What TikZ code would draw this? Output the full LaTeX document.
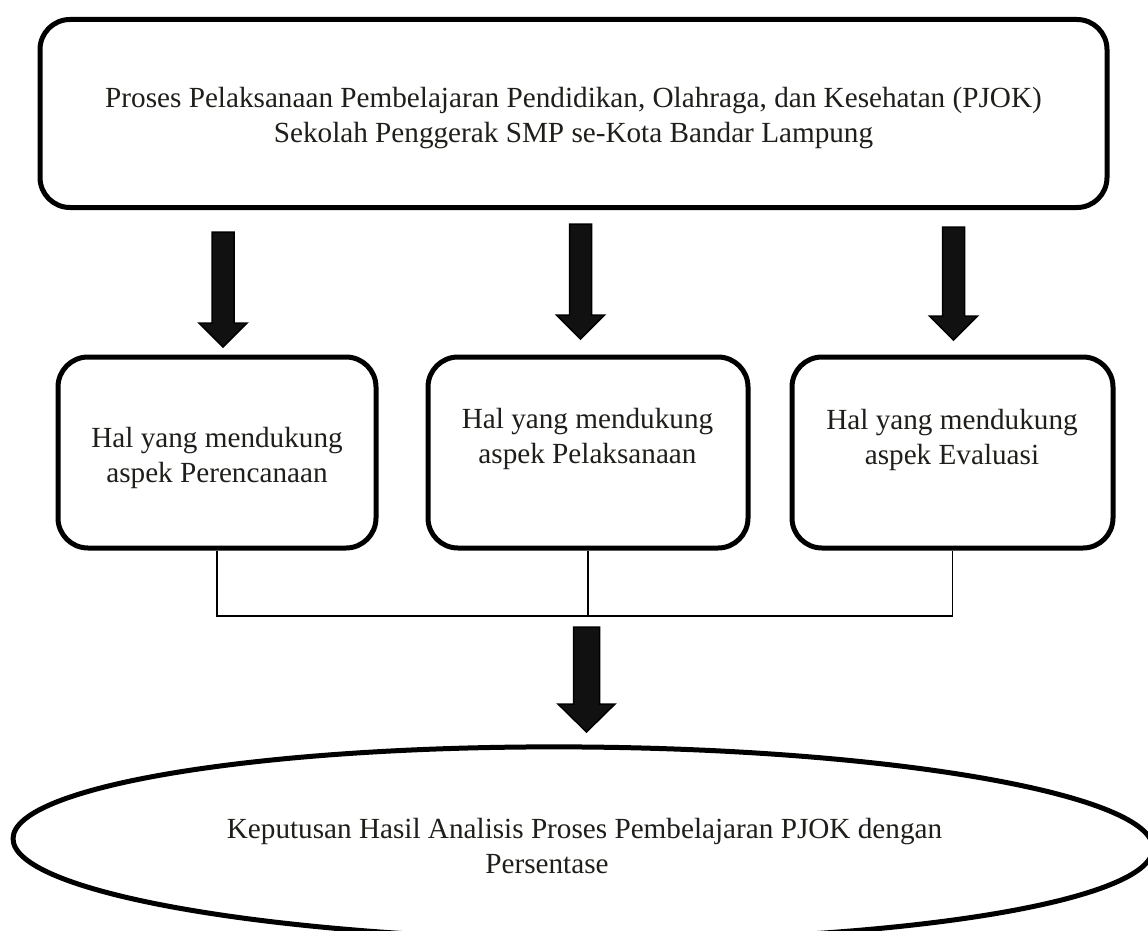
\documentclass[tikz,border=0pt]{standalone}
\usepackage{fontspec}
\setmainfont{Liberation Serif}
\usetikzlibrary{shapes.geometric,calc}
\definecolor{txtc}{RGB}{30,30,26}
\definecolor{arrfill}{RGB}{17,17,17}
% block arrow: start, end, half shaft width, half head width, head length
\newcommand{\blockarr}[5]{%
  \filldraw[arr] ($(#1)+(-#3,0)$) -- ($(#2)+(-#3,-#5)$) -- ($(#2)+(-#4,-#5)$) -- (#2)
    -- ($(#2)+(#4,-#5)$) -- ($(#2)+(#3,-#5)$) -- ($(#1)+(#3,0)$) -- cycle;}
\begin{document}
\begin{tikzpicture}[x=1pt,y=-1pt,
  rbox/.style={draw=black, line width=5pt, rounded corners=30pt, rectangle, inner sep=0pt, minimum height=191pt},
  txt/.style={font=\fontsize{29.2}{35}\selectfont, text=txtc, align=center, inner sep=0pt},
  conn/.style={draw=black, line width=1.3pt},
  arr/.style={fill=arrfill, draw=black, line width=1.5pt, line join=miter}]
\useasboundingbox (0,0) rectangle (1148,931);
\fill[white] (0,0) rectangle (1148,931);

% top box
\node[rbox, minimum width=1067pt, minimum height=188pt] (top) at (573.5,113.5) {};
\node[txt] (topt) at (573.5,117.6) {Proses Pelaksanaan Pembelajaran Pendidikan, Olahraga, dan Kesehatan (PJOK)\\Sekolah Penggerak SMP se-Kota Bandar Lampung};

% middle boxes
\node[rbox, minimum width=318pt] (L) at (217,452.5) {};
\node[rbox, minimum width=320pt] (M) at (588,452.5) {};
\node[rbox, minimum width=321pt] (R) at (952.5,452.5) {};
\node[txt] (Lt) at (217,457.8) {Hal yang mendukung\\aspek Perencanaan};
\node[txt] (Mt) at (587.5,438.8) {Hal yang mendukung\\aspek Pelaksanaan};
\node[txt] (Rt) at (952,439.8) {Hal yang mendukung\\aspek Evaluasi};

% ellipse
\node[draw=black, ellipse, line width=5pt, minimum width=1140pt, minimum height=193pt, inner sep=0pt, rotate=-0.5] (ell) at (583,843.5) {};
\node[txt] (ellt) at (584.5,845.6) {Keputusan Hasil Analisis Proses Pembelajaran PJOK dengan\\Persentase\hspace*{75pt}};

% connector lines
\coordinate (bar) at (584,616);
\draw[conn] (L.south) |- (bar) -| (R.south);
\draw[conn] (M.south) -- (M.south |- bar);

% block arrows
\coordinate (a1s) at (223,232);   \coordinate (a1e) at (223,347);
\coordinate (a2s) at (580.5,224); \coordinate (a2e) at (580.5,339);
\coordinate (a3s) at (953.5,227); \coordinate (a3e) at (953.5,340);
\coordinate (a4s) at (586.5,627); \coordinate (a4e) at (586.5,732);
\blockarr{a1s}{a1e}{11}{24}{24}
\blockarr{a2s}{a2e}{11}{24}{24}
\blockarr{a3s}{a3e}{11}{24}{24}
\blockarr{a4s}{a4e}{13}{28.5}{28}
\end{tikzpicture}
\end{document}
